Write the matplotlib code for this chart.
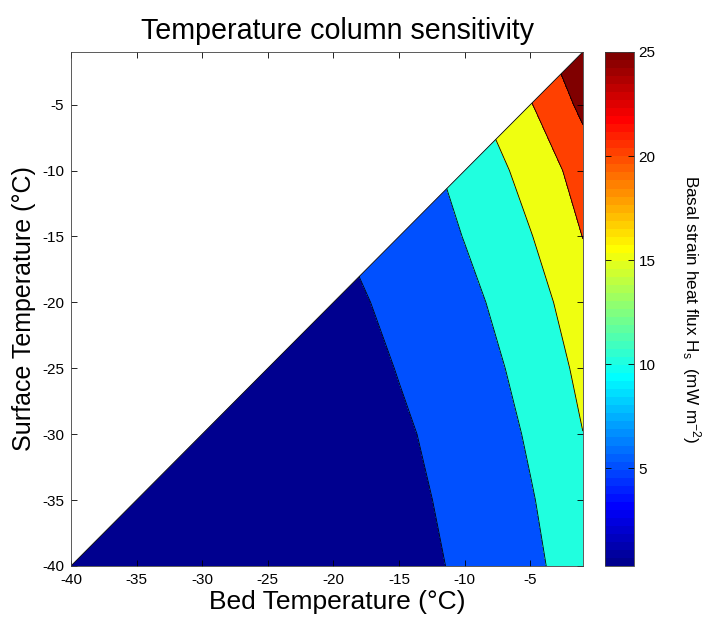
"""Temperature column sensitivity: basal strain heat flux vs bed and surface temperature."""

import matplotlib

matplotlib.use("Agg")

import matplotlib.pyplot as plt
import numpy as np
from matplotlib.colors import ListedColormap, Normalize
from matplotlib.cm import ScalarMappable
from matplotlib.patches import Polygon

plt.rcParams["font.family"] = ["Liberation Sans", "DejaVu Sans"]
plt.rcParams["axes.unicode_minus"] = False
plt.rcParams["mathtext.fontset"] = "custom"
plt.rcParams["mathtext.rm"] = "Liberation Sans"
plt.rcParams["mathtext.it"] = "Liberation Sans"

# grid of the field (deg C)
bed_temp = [-40, -35, -30, -25, -20, -15, -10, -5, -1]
surf_temp = [-40, -35, -30, -25, -20, -15, -10, -5, -1]

# basal strain heat flux (mW m^-2), one row per surface temperature
flux = [
    [0.30, 0.49, 0.81, 1.32, 2.17, 3.56, 5.75, 8.98, 12.8],
    [0.345, 0.56, 0.91, 1.48, 2.40, 3.99, 6.21, 9.66, 13.76],
    [0.41, 0.66, 1.06, 1.71, 2.75, 4.43, 6.89, 10.58, 14.94],
    [0.51, 0.81, 1.29, 2.05, 3.26, 5.17, 7.76, 11.70, 16.29],
    [0.65, 1.02, 1.60, 2.51, 3.94, 6.00, 8.81, 13.03, 17.9],
    [0.82, 1.27, 1.97, 3.05, 4.78, 6.96, 10.15, 14.78, 20.08],
    [0.90, 1.39, 2.15, 3.32, 5.12, 7.70, 11.59, 16.91, 22.2],
    [1.13, 1.73, 2.64, 4.04, 6.05, 8.85, 13.75, 19.73, 26.3],
    [1.40, 2.14, 3.27, 5.00, 6.99, 9.80, 15.50, 22.50, 29.0],
]

contour_levels = [5, 10, 15, 20, 25]
cbar_ticks = [5, 10, 15, 20, 25]
cbar_range = (0.3, 25)


def matlab_jet(n=64):
    m = int(np.ceil(n / 4))
    u = np.concatenate([np.arange(1, m + 1) / m, np.ones(m - 1), np.arange(m, 0, -1) / m])
    g = int(np.ceil(m / 2)) - (n % 4 == 1) + np.arange(1, len(u) + 1)
    r = g + m
    b = g - m
    cols = np.zeros((n, 3))
    cols[r[r <= n] - 1, 0] = u[r <= n]
    cols[g[g <= n] - 1, 1] = u[g <= n]
    cols[b[b >= 1] - 1, 2] = u[b >= 1]
    return ListedColormap(cols)


def main():
    tb = np.array(bed_temp, dtype=float)
    ts = np.array(surf_temp, dtype=float)
    z = np.array(flux)

    cmap = matlab_jet(64)
    norm = Normalize(*cbar_range)

    lo = z.min()
    hi = z.max() + 1
    levels = [lo] + contour_levels + [hi]
    band_colors = [cmap(norm(v)) for v in levels[:-1]]

    fig = plt.figure(figsize=(7.09, 6.21), dpi=100)
    ax = fig.add_axes([0.100, 0.0886, 0.722, 0.8277])
    cax = fig.add_axes([0.853, 0.0886, 0.041, 0.8277])

    # the column only exists where the surface is colder than the bed
    tri = Polygon([(tb[0], ts[0]), (tb[-1], ts[0]), (tb[-1], ts[-1])], closed=True,
                  transform=ax.transData, facecolor="none", edgecolor="none")
    ax.add_patch(tri)

    # contour log(flux) so the steep growth with bed temperature is followed closely
    cf = ax.contourf(tb, ts, np.log(z), levels=np.log(levels), colors=band_colors)
    cf.set_clip_path(tri)
    cl = ax.contour(tb, ts, np.log(z), levels=np.log(contour_levels),
                    colors="k", linewidths=0.6)
    cl.set_clip_path(tri)
    ax.plot([tb[0], tb[-1]], [ts[0], ts[-1]], color="k", lw=0.6)

    ax.set_xlim(tb[0], tb[-1])
    ax.set_ylim(ts[0], ts[-1])
    ax.set_xticks(bed_temp[:-1])
    ax.set_yticks(surf_temp[:-1])
    ax.tick_params(direction="in", top=True, right=True, length=4, width=0.6,
                   labelsize=11, pad=5)
    for sp in ax.spines.values():
        sp.set_linewidth(0.6)
        sp.set_color("#404040")

    ax.set_title("Temperature column sensitivity", fontsize=20.6, pad=9, x=0.52)
    ax.set_xlabel("Bed Temperature (°C)", fontsize=19, labelpad=2, x=0.52)
    ax.set_ylabel("Surface Temperature (°C)", fontsize=18, labelpad=4)

    sm = ScalarMappable(norm=norm, cmap=cmap)
    cb = fig.colorbar(sm, cax=cax, ticks=cbar_ticks)
    cb.outline.set_linewidth(0.6)
    cb.outline.set_edgecolor("#404040")
    cax.tick_params(direction="in", left=True, right=True, length=4, width=0.6,
                    labelsize=11)
    cb.set_label("Basal strain heat flux H$_\\mathrm{s}$  (mW m$^{-2}$)", fontsize=12.3,
                 rotation=270, labelpad=34)

    fig.savefig("out.png", dpi=100)
    plt.close(fig)


if __name__ == "__main__":
    main()
